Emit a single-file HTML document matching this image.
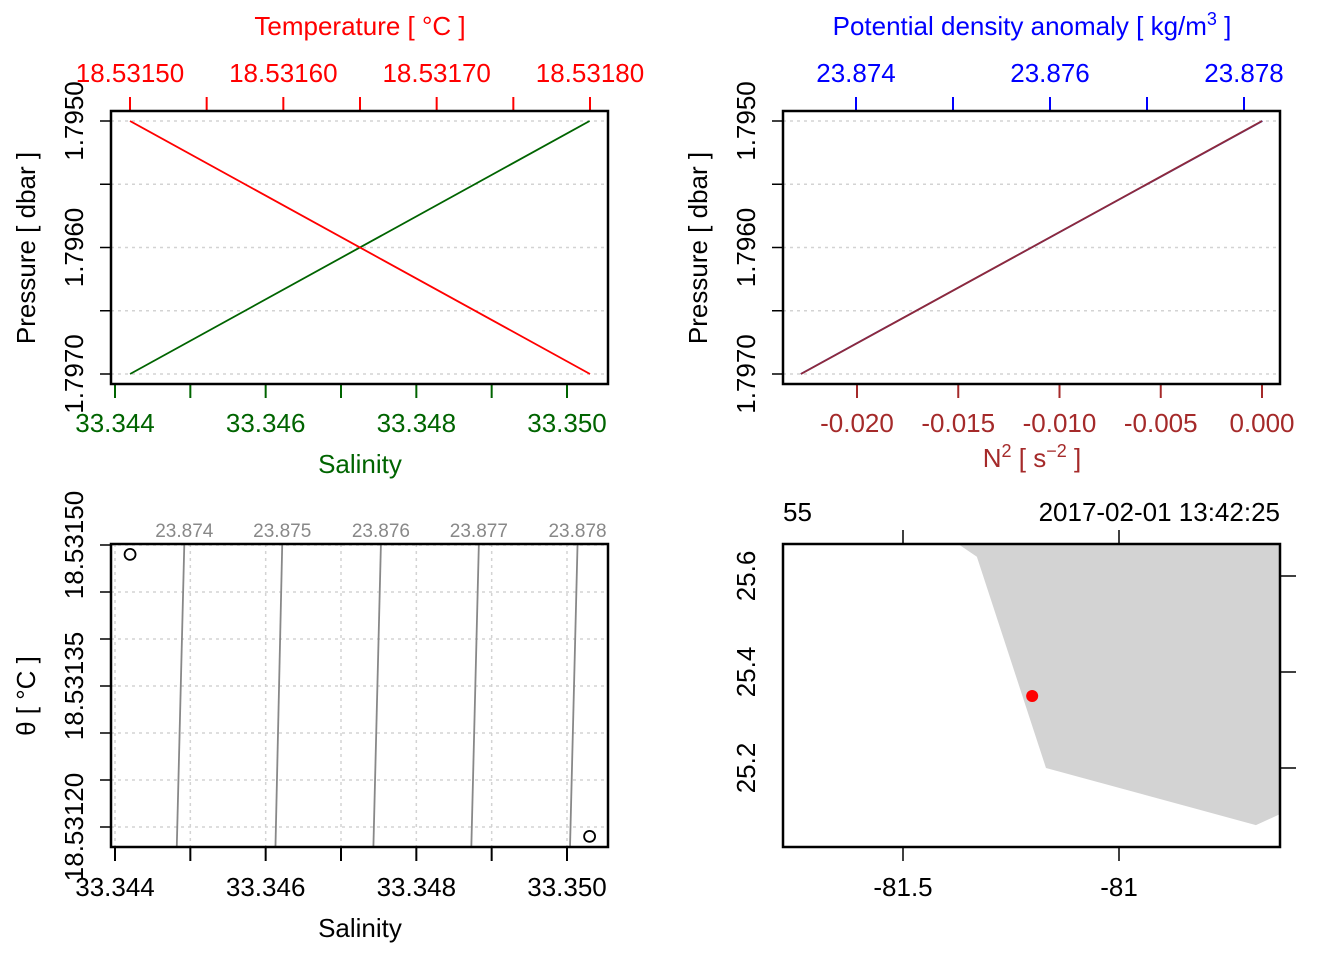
<!DOCTYPE html>
<html><head><meta charset="utf-8"><style>
html,body{margin:0;padding:0;background:#fff}
svg{display:block;font-family:"Liberation Sans",Arial,sans-serif}
</style></head><body>
<svg id="c" width="1344" height="960" viewBox="0 0 1344 960"></svg>
<script>
// ---- data ----
const profPressure=[1.7970,1.7950];
const profSalinity=[33.3442,33.3503];
const profTemperature=[18.53180,18.53150];
const profN2=[-0.02277,0.0];
const profSigma=[23.87343,23.87819];
const tsTheta=[18.53149,18.53119];
const tsSalinity=[33.3442,33.3503];
const isoSigma=[23.874,23.875,23.876,23.877,23.878];
const isoSalTop=[33.34492,33.34622,33.34753,33.34883,33.35014];
const isoSalBot=[33.34482,33.34613,33.34743,33.34873,33.35004];
const salTicks=[33.344,33.345,33.346,33.347,33.348,33.349,33.350];
const salLabels=["33.344","","33.346","","33.348","","33.350"];
const presTicks=[1.7950,1.7955,1.7960,1.7965,1.7970];
const presLabels=["1.7950","","1.7960","","1.7970"];
const tempTicks=[18.53150,18.53155,18.53160,18.53165,18.53170,18.53175,18.53180];
const tempLabels=["18.53150","","18.53160","","18.53170","","18.53180"];
const sigTicks=[23.874,23.875,23.876,23.877,23.878];
const sigLabels=["23.874","","23.876","","23.878"];
const n2Ticks=[-0.020,-0.015,-0.010,-0.005,0.000];
const n2Labels=["-0.020","-0.015","-0.010","-0.005","0.000"];
const thetaTicks=[18.53150,18.53145,18.53140,18.53135,18.53130,18.53125,18.53120];
const thetaLabels=["18.53150","","","18.53135","","","18.53120"];
const coastLon=[-81.373,-81.329,-81.169,-80.683,-80.627,-80.627];
const coastLat=[25.667,25.640,25.2,25.081,25.104,25.667];
const stationLon=[-81.201];
const stationLat=[25.35];
const lonTicks=[-81.5,-81];
const lonLabels=["-81.5","-81"];
const latTicks=[25.2,25.4,25.6];
const latLabels=["25.2","25.4","25.6"];

const FS=26;
const NS="http://www.w3.org/2000/svg";
const svg=document.getElementById('c');
function mk(tag,attrs,parent){const e=document.createElementNS(NS,tag);for(const k in attrs)e.setAttribute(k,attrs[k]);(parent||svg).appendChild(e);return e;}
function txt(x,y,s,opts,parent){const t=mk('text',Object.assign({x:x,y:y,'font-size':FS,'text-anchor':'middle'},opts||{}),parent);t.textContent=s;return t;}
function lin(d0,d1,p0,p1){return v=>p0+(v-d0)*(p1-p0)/(d1-d0);}

// ===== Panel 1: T & S profile =====
{
const g=mk('g',{});


const X=lin(33.344,33.350,115,567), Y=lin(1.7950,1.7970,121,374), XT=lin(18.53150,18.53180,130,590);
presTicks.forEach((p,i)=>{const l=mk('line',{x1:111,x2:608,y1:Y(p),y2:Y(p),stroke:'#d3d3d3','stroke-dasharray':'3,4','stroke-width':1.5},g);

mk('line',{x1:100,x2:111,y1:Y(p),y2:Y(p),stroke:'#000','stroke-width':1.5},g);
if(presLabels[i]){const t=txt(0,0,presLabels[i],{transform:`translate(83,${Y(p)}) rotate(-90)`},g);}});
salTicks.forEach((s,i)=>{mk('line',{x1:X(s),x2:X(s),y1:384,y2:398,stroke:'#006400','stroke-width':2},g);
if(salLabels[i]){const t=txt(X(s),432,salLabels[i],{fill:'#006400'},g);}});
tempTicks.forEach((s,i)=>{mk('line',{x1:XT(s),x2:XT(s),y1:97,y2:111,stroke:'#f00','stroke-width':2},g);
if(tempLabels[i]){const t=txt(XT(s),82,tempLabels[i],{fill:'#f00'},g);}});
let pts=profSalinity.map((s,i)=>X(s)+','+Y(profPressure[i])).join(' ');
const sl=mk('polyline',{points:pts,fill:'none',stroke:'#006400','stroke-width':1.8},g);

pts=profTemperature.map((s,i)=>XT(s)+','+Y(profPressure[i])).join(' ');
const tl=mk('polyline',{points:pts,fill:'none',stroke:'#f00','stroke-width':1.8},g);

const b=mk('rect',{x:111,y:111,width:497,height:273,fill:'none',stroke:'#000','stroke-width':2.5},g);

let t=txt(360,35,'Temperature [ °C ]',{fill:'#f00'},g);
t=txt(360,473,'Salinity',{fill:'#006400'},g);
t=txt(0,0,'Pressure [ dbar ]',{transform:'translate(35,248) rotate(-90)'},g);
}

// ===== Panel 2: density & N2 =====
{
const g=mk('g',{});


const X=lin(-0.020,0,857,1262), Y=lin(1.7950,1.7970,121,374), XS=lin(23.874,23.878,856,1244);
presTicks.forEach((p,i)=>{const l=mk('line',{x1:783,x2:1280,y1:Y(p),y2:Y(p),stroke:'#d3d3d3','stroke-dasharray':'3,4','stroke-width':1.5},g);

mk('line',{x1:772,x2:783,y1:Y(p),y2:Y(p),stroke:'#000','stroke-width':1.5},g);
if(presLabels[i]){const t=txt(0,0,presLabels[i],{transform:`translate(755,${Y(p)}) rotate(-90)`},g);}});
n2Ticks.forEach((s,i)=>{mk('line',{x1:X(s),x2:X(s),y1:384,y2:398,stroke:'#a52a2a','stroke-width':2},g);
const t=txt(X(s),432,n2Labels[i],{fill:'#a52a2a'},g);});
sigTicks.forEach((s,i)=>{mk('line',{x1:XS(s),x2:XS(s),y1:97,y2:111,stroke:'#00f','stroke-width':2},g);
if(sigLabels[i]){const t=txt(XS(s),82,sigLabels[i],{fill:'#00f'},g);}});
let pts=profSigma.map((s,i)=>XS(s)+','+Y(profPressure[i])).join(' ');
const dl=mk('polyline',{points:pts,fill:'none',stroke:'#3a2a9a','stroke-width':1.8},g);

pts=profN2.map((s,i)=>X(s)+','+Y(profPressure[i])).join(' ');
const nl=mk('polyline',{points:pts,fill:'none',stroke:'#8e2a3c','stroke-width':1.8},g);

const b=mk('rect',{x:783,y:111,width:497,height:273,fill:'none',stroke:'#000','stroke-width':2.5},g);

let t=mk('text',{x:1032,y:35,'font-size':FS,'text-anchor':'middle',fill:'#00f'},g);
t.innerHTML='Potential density anomaly [ kg/m<tspan dy="-10" font-size="18">3</tspan><tspan dy="10"> ]</tspan>';

t=mk('text',{x:1032,y:467,'font-size':FS,'text-anchor':'middle',fill:'#a52a2a'},g);
t.innerHTML='N<tspan dy="-10" font-size="18">2</tspan><tspan dy="10"> [ s</tspan><tspan dy="-10" font-size="18">−2</tspan><tspan dy="10"> ]</tspan>';

t=txt(0,0,'Pressure [ dbar ]',{transform:'translate(707,248) rotate(-90)'},g);
}

// ===== Panel 3: TS diagram =====
{
const g=mk('g',{});


const X=lin(33.344,33.350,115,567), Y=lin(18.53150,18.53120,545,827);
salTicks.forEach((s,i)=>{const l=mk('line',{x1:X(s),x2:X(s),y1:544,y2:847,stroke:'#d3d3d3','stroke-dasharray':'3,4','stroke-width':1.5},g);

mk('line',{x1:X(s),x2:X(s),y1:847,y2:861,stroke:'#000','stroke-width':2},g);
if(salLabels[i]){const t=txt(X(s),896,salLabels[i],{},g);}});
thetaTicks.forEach((p,i)=>{const l=mk('line',{x1:111,x2:608,y1:Y(p),y2:Y(p),stroke:'#d3d3d3','stroke-dasharray':'3,4','stroke-width':1.5},g);

mk('line',{x1:100,x2:111,y1:Y(p),y2:Y(p),stroke:'#000','stroke-width':1.5},g);
if(thetaLabels[i]){const t=txt(0,0,thetaLabels[i],{transform:`translate(83,${Y(p)}) rotate(-90)`},g);}});
isoSigma.forEach((s,i)=>{const l=mk('line',{x1:X(isoSalTop[i]),y1:544,x2:X(isoSalBot[i]),y2:847,stroke:'#888','stroke-width':1.8},g);

const t=txt(X(isoSalTop[i]),537,s.toFixed(3),{fill:'#888','font-size':19},g);});
tsSalinity.forEach((s,i)=>{const c=mk('circle',{cx:X(s),cy:Y(tsTheta[i]),r:5.5,fill:'none',stroke:'#000','stroke-width':1.8},g);
});
const b=mk('rect',{x:111,y:544,width:497,height:303,fill:'none',stroke:'#000','stroke-width':2.5},g);

let t=txt(360,937,'Salinity',{},g);
t=txt(0,0,'θ [ °C ]',{transform:'translate(35,696) rotate(-90)'},g);
}

// ===== Panel 4: map =====
{
const g=mk('g',{});


const X=lin(-81.5,-81,903,1119), Y=lin(25.6,25.2,576,768);
const clip=mk('clipPath',{id:'mapclip'},g);mk('rect',{x:783,y:544,width:497,height:303},clip);
const land=mk('polygon',{points:coastLon.map((v,i)=>X(v)+','+Y(coastLat[i])).join(' '),fill:'#d3d3d3',stroke:'none','clip-path':'url(#mapclip)'},g);

stationLon.forEach((v,i)=>{const c=mk('circle',{cx:X(v),cy:Y(stationLat[i]),r:6,fill:'#f00'},g);
});
lonTicks.forEach((v,i)=>{mk('line',{x1:X(v),x2:X(v),y1:847,y2:861,stroke:'#000','stroke-width':1.5},g);
mk('line',{x1:X(v),x2:X(v),y1:530,y2:544,stroke:'#000','stroke-width':1.5},g);
const t=txt(X(v),896,lonLabels[i],{},g);});
latTicks.forEach((v,i)=>{mk('line',{x1:1280,x2:1296,y1:Y(v),y2:Y(v),stroke:'#000','stroke-width':1.5},g);
const t=txt(0,0,latLabels[i],{transform:`translate(755,${Y(v)}) rotate(-90)`},g);});
const b=mk('rect',{x:783,y:544,width:497,height:303,fill:'none',stroke:'#000','stroke-width':2.5},g);

let t=txt(783,521,'55',{'text-anchor':'start'},g);
t=txt(1280,521,'2017-02-01 13:42:25',{'text-anchor':'end'},g);
}
</script>
</body></html>
